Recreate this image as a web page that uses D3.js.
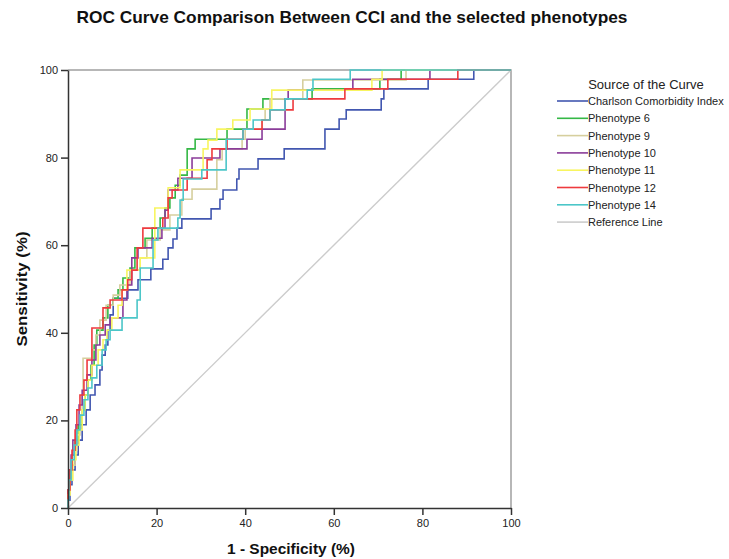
<!DOCTYPE html>
<html><head><meta charset="utf-8">
<script src="https://cdn.jsdelivr.net/npm/d3@7"></script>
<style>
body{margin:0;background:#fff;}
svg{display:block;font-family:"Liberation Sans",Arial,sans-serif;}
</style></head>
<body><svg id="chart" width="729" height="559"></svg>
<script>
// ---------- data (percent) : x = 1-specificity where TPR steps up, y = TPR after the step ----------
const seriesNames = ["Charlson Comorbidity Index","Phenotype 6","Phenotype 9","Phenotype 10","Phenotype 11","Phenotype 12","Phenotype 14","Reference Line"];
const seriesColors = ["#4257B0","#35B846","#D6CF9E","#8A3C99","#F8F560","#EE3A3E","#4CC6C8","#CCCCCC"];

const cciFpr = [0,0.45,0.9,1.6,2.3,3.2,4.1,5.0,6.1,7.2,7.7,8.4,9.0,9.5,10.2,13.5,15.8,18.7,21.4,22.6,23.7,24.6,25.7,32.3,34.3,35.0,38.1,38.6,42.9,48.8,58.0,61.2,62.8,70.7,71.3,81.3,91.6,100];
const cciTpr = [1.8,5.3,8.7,12.1,15.5,19.0,22.4,25.8,28.1,31.5,34.9,37.2,40.6,44.1,47.9,49.8,52.1,54.6,56.8,59.4,61.4,63.9,66.0,68.3,70.5,72.6,75.1,77.4,79.7,82.0,86.5,88.8,90.9,93.4,95.7,97.9,100,100];

const ph6Fpr = [0,0.45,0.9,1.6,2.3,3.2,3.8,4.5,5.2,5.9,6.5,7.9,9.0,10.2,11.3,12.4,14.0,15.1,17.4,19.0,20.8,21.9,23.0,24.2,25.3,26.9,28.7,35.9,40.4,44.0,55.1,70.4,75.2,100];
const ph6Tpr = [4.1,8.7,12.1,15.5,19.0,22.4,25.8,29.2,32.6,37.2,40.6,43.4,46.3,47.9,49.8,52.5,54.8,59.4,61.6,63.9,66.2,68.5,70.8,73.7,76.0,82.0,84.2,86.5,91.1,93.4,95.7,97.9,100,100];

const ph9Fpr = [0,0.45,0.9,1.6,2.0,2.7,3.2,3.4,5.4,6.3,7.2,8.6,10.2,11.7,14.0,16.3,17.8,20.8,23.0,25.7,28.0,33.6,34.8,39.3,40.0,43.8,44.5,45.6,53.0,76.3,100];
const ph9Tpr = [3.0,6.4,9.8,13.2,16.7,21.2,25.8,34.2,36.1,39.5,42.9,46.3,48.6,50.9,54.3,57.1,61.2,63.5,66.9,70.5,72.8,79.5,82.0,84.2,86.5,88.6,91.1,93.4,97.7,100,100];

const ph10Fpr = [0,0.2,0.7,1.1,1.8,2.5,3.2,4.3,5.4,6.3,7.2,8.4,9.5,12.4,13.3,14.4,15.8,19.0,21.2,21.9,22.6,24.8,28.0,34.3,40.4,43.8,49.0,49.7,64.3,81.7,100];
const ph10Tpr = [4.1,8.7,12.1,15.5,19.0,23.5,26.9,30.4,33.8,37.2,39.5,41.8,43.4,47.5,50.9,57.1,59.4,61.6,63.9,68.0,72.6,75.3,79.9,82.0,84.2,86.5,93.4,95.4,97.9,100,100];

const ph11Fpr = [0,0.45,1.1,1.8,2.5,3.2,3.8,4.5,5.4,6.8,7.9,8.8,9.9,11.3,12.2,13.3,16.3,19.6,22.6,25.3,30.5,31.6,33.6,37.2,41.1,46.0,68.6,70.9,100];
const ph11Tpr = [3.0,6.4,11.0,14.4,17.8,22.4,25.8,29.2,32.6,36.1,38.4,40.6,43.4,46.3,49.8,54.3,57.1,68.5,73.1,77.2,82.0,84.0,86.5,88.6,91.1,95.4,97.9,100,100];

const ph12Fpr = [0,0.45,0.9,1.6,2.0,2.7,3.6,4.3,5.4,7.9,9.5,12.2,13.5,14.4,15.6,16.9,21.4,22.6,23.5,26.9,31.4,32.5,35.9,39.5,43.8,45.6,50.8,62.5,72.2,88.0,100];
const ph12Tpr = [4.1,8.7,13.2,17.8,22.4,25.8,29.2,33.8,41.1,45.7,47.5,49.8,52.1,54.3,59.4,63.9,66.2,70.8,72.6,75.3,79.5,82.0,84.2,86.5,88.6,90.9,93.4,95.7,97.9,100,100];

const ph14Fpr = [0,0.2,0.7,1.4,2.0,2.7,3.6,4.5,5.4,6.5,7.7,8.6,9.5,12.2,15.6,16.3,19.2,20.3,24.8,25.3,26.0,30.2,35.7,39.5,41.8,45.6,49.0,54.0,55.3,63.7,100];
const ph14Tpr = [1.8,6.4,11.0,14.4,17.8,21.2,24.7,27.4,29.7,32.6,36.1,38.4,40.6,43.4,47.5,54.8,61.2,63.9,66.2,70.3,75.1,77.2,84.2,86.5,88.6,90.9,93.4,95.4,97.9,100,100];

const refFpr = [0,100];
const refTpr = [0,100];

const xTicks = [0,20,40,60,80,100];
const yTicks = [0,20,40,60,80,100];

const chartTitle = "ROC Curve Comparison Between CCI and the selected phenotypes";
const xTitle = "1 - Specificity (%)";
const yTitle = "Sensitivity (%)";
const legendTitle = "Source of the Curve";

// ---------- build ----------
const series = [
  {fpr:cciFpr,tpr:cciTpr},{fpr:ph6Fpr,tpr:ph6Tpr},{fpr:ph9Fpr,tpr:ph9Tpr},
  {fpr:ph10Fpr,tpr:ph10Tpr},{fpr:ph11Fpr,tpr:ph11Tpr},{fpr:ph12Fpr,tpr:ph12Tpr},
  {fpr:ph14Fpr,tpr:ph14Tpr}
].map((s,i)=>({name:seriesNames[i],color:seriesColors[i],pts:[[0,0]].concat(s.fpr.map((f,j)=>[f,s.tpr[j]]))}));

const svg = d3.select("#chart");
const x = d3.scaleLinear().domain([0,100]).range([68,511]);
const y = d3.scaleLinear().domain([0,100]).range([508,70]);

// frame (top/right)
svg.append("path").attr("d",`M${x(0)},${y(100)}H${x(100)}V${y(0)}`)
  .attr("fill","none").attr("stroke","#a0a0a0").attr("stroke-width",1.5);

// reference line
svg.append("path")
  .attr("d", d3.line().x(d=>x(d[0])).y(d=>y(d[1]))(refFpr.map((f,i)=>[f,refTpr[i]])))
  .attr("fill","none").attr("stroke",seriesColors[7]).attr("stroke-width",1.4);

const stepLine = d3.line().x(d=>x(d[0])).y(d=>y(d[1])).curve(d3.curveStepAfter);
svg.append("g").selectAll("path").data(series).join("path")
  .attr("d",d=>stepLine(d.pts))
  .attr("fill","none").attr("stroke",d=>d.color).attr("stroke-width",1.6)
  .attr("stroke-linejoin","miter");

// axes
const xAxis = svg.append("g").attr("transform",`translate(0,${y(0)})`)
  .call(d3.axisBottom(x).tickValues(xTicks).tickSize(7).tickSizeOuter(0).tickPadding(4));
const yAxis = svg.append("g").attr("transform",`translate(${x(0)},0)`)
  .call(d3.axisLeft(y).tickValues(yTicks).tickSize(7).tickSizeOuter(0).tickPadding(3));
[xAxis,yAxis].forEach(a=>{
  a.selectAll(".domain").attr("stroke","#333").attr("stroke-width",1.5);
  a.selectAll(".tick line").attr("stroke","#333").attr("stroke-width",1.5);
  a.selectAll(".tick text").attr("font-size",11).attr("fill","#222")
    .attr("font-family","'Liberation Sans',Arial,sans-serif");
});

// titles
svg.append("text").attr("x",352).attr("y",23).attr("text-anchor","middle")
  .attr("font-size",17).attr("font-weight","bold").attr("fill","#111")
  .attr("textLength",551).attr("lengthAdjust","spacingAndGlyphs").text(chartTitle);
svg.append("text").attr("x",291).attr("y",554).attr("text-anchor","middle")
  .attr("font-size",15).attr("font-weight","bold").attr("fill","#111")
  .attr("textLength",128).attr("lengthAdjust","spacingAndGlyphs").text(xTitle);
svg.append("text").attr("transform","translate(27,289) rotate(-90)").attr("text-anchor","middle")
  .attr("font-size",15).attr("font-weight","bold").attr("fill","#111")
  .attr("textLength",115).attr("lengthAdjust","spacingAndGlyphs").text(yTitle);

// legend
const lg = svg.append("g");
lg.append("text").attr("x",646).attr("y",89).attr("text-anchor","middle")
  .attr("font-size",13).attr("fill","#222").text(legendTitle);
const items = lg.selectAll("g.item").data(seriesNames).join("g").attr("class","item")
  .attr("transform",(d,i)=>`translate(0,${101+i*17.3})`);
items.append("line").attr("x1",557).attr("x2",588).attr("y1",0).attr("y2",0)
  .attr("stroke",(d,i)=>seriesColors[i]).attr("stroke-width",1.6);
items.append("text").attr("x",588).attr("y",4).attr("font-size",11).attr("fill","#222").text(d=>d);
</script></body></html>
